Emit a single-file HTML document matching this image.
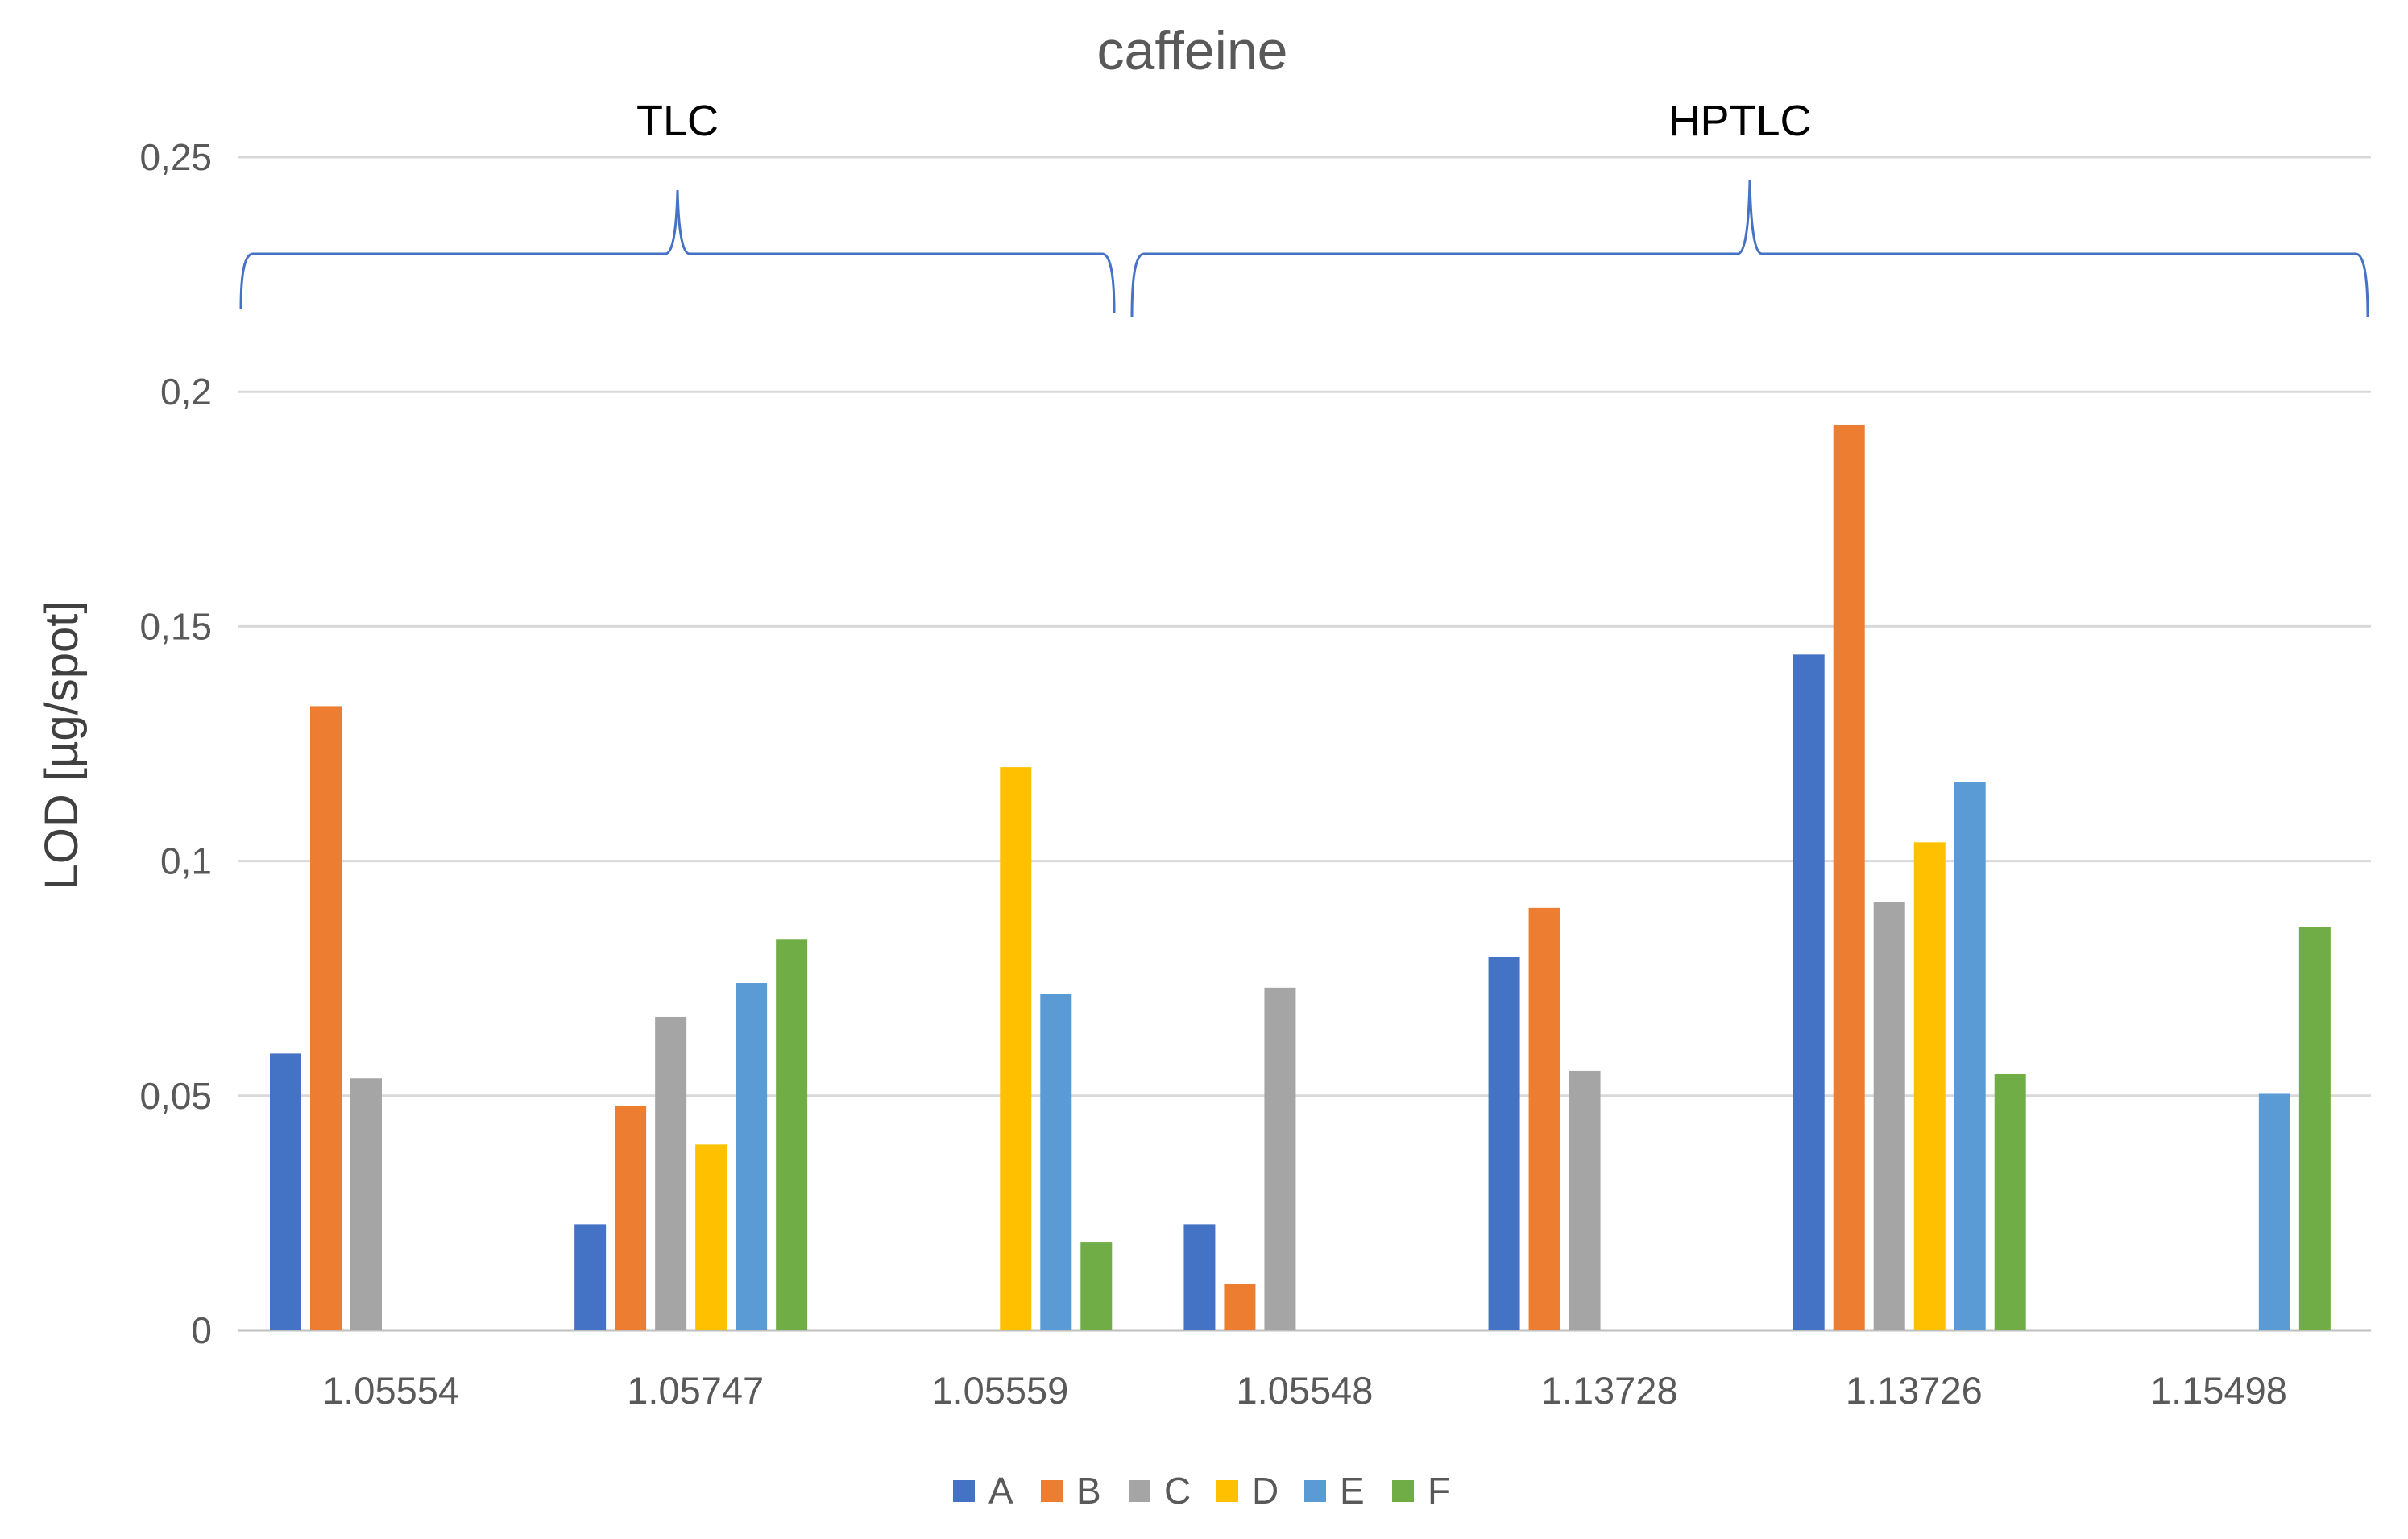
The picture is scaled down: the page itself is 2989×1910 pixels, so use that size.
<!DOCTYPE html>
<html><head><meta charset="utf-8"><style>
body{margin:0;background:#fff;}
svg{display:block;font-family:"Liberation Sans",sans-serif;}
</style></head><body>
<svg id="chart" width="2989" height="1910" viewBox="0 0 2989 1910">
<rect width="2989" height="1910" fill="#fff"/>
<text x="1480" y="86" font-size="68" fill="#595959" text-anchor="middle">caffeine</text>
<text x="841" y="168" font-size="54" fill="#000" text-anchor="middle">TLC</text>
<text x="2160" y="168" font-size="54" fill="#000" text-anchor="middle">HPTLC</text>
<path d="M299,383 Q299,315 314,315 L826,315 Q839,315 841,236 Q843,315 856,315 L1368,315 Q1383,315 1383,388" fill="none" stroke="#4472C4" stroke-width="3"/>
<path d="M1405,393 Q1405,315 1420,315 L2157,315 Q2170,315 2172,224 Q2174,315 2187,315 L2924,315 Q2939,315 2939,393" fill="none" stroke="#4472C4" stroke-width="3"/>
<g id="grid"></g><g id="bars"></g><g id="labels"></g>
<text transform="translate(96,925) rotate(-90)" font-size="58" fill="#404040" text-anchor="middle">LOD [µg/spot]</text>
<g id="legend"></g>
</svg>
<script>
const categories=["1.05554","1.05747","1.05559","1.05548","1.13728","1.13726","1.15498"];
const seriesNames=["A","B","C","D","E","F"];
const seriesColors=["#4472C4","#ED7D31","#A5A5A5","#FFC000","#5B9BD5","#70AD47"];
const valuesA=[0.059,0.0226,0,0.0226,0.0795,0.144,0];
const valuesB=[0.133,0.0478,0,0.0098,0.090,0.193,0];
const valuesC=[0.0537,0.0668,0,0.073,0.0553,0.0913,0];
const valuesD=[0,0.0396,0.120,0,0,0.104,0];
const valuesE=[0,0.074,0.0717,0,0,0.1168,0.0504];
const valuesF=[0,0.0834,0.0187,0,0,0.0546,0.086];
const yTicks=[0,0.05,0.1,0.15,0.2,0.25];
const yTickLabels=["0","0,05","0,1","0,15","0,2","0,25"];
const series=[valuesA,valuesB,valuesC,valuesD,valuesE,valuesF];
const NS="http://www.w3.org/2000/svg";
const L=296,R=2943,Y0=1651,Y1=195,YMAX=0.25;
const y=v=>Y0-(v/YMAX)*(Y0-Y1);
const cw=(R-L)/categories.length;
const x=i=>L+i*cw;
function mk(t,a,p){const e=document.createElementNS(NS,t);for(const k in a)e.setAttribute(k,a[k]);p.appendChild(e);return e;}
const grid=document.getElementById('grid'),bars=document.getElementById('bars'),labels=document.getElementById('labels'),legend=document.getElementById('legend');
yTicks.forEach((t,i)=>{
 const ln=mk('line',{x1:L,x2:R,y1:y(t),y2:y(t),stroke:i==0?'#bfbfbf':'#d9d9d9','stroke-width':3},grid);
 
 
 const tx=mk('text',{x:263,y:y(t)+16,'font-size':46,fill:'#595959','text-anchor':'end'},labels);
 tx.textContent=yTickLabels[i];
 
 
});
categories.forEach((c,i)=>{
 const tx=mk('text',{x:x(i)+cw/2,y:1742,'font-size':47,fill:'#595959','text-anchor':'middle'},labels);
 tx.textContent=c;
 
 
 series.forEach((s,j)=>{
  if(!s[i])return;
  const r=mk('rect',{x:x(i)+39+j*50,y:y(s[i]),width:39,height:Y0-y(s[i]),fill:seriesColors[j]},bars);
  
  
 });
});
seriesNames.forEach((n,j)=>{
 const g=mk('g',{},legend);
 
 
 mk('rect',{x:1183+j*109,y:1837,width:27,height:27,fill:seriesColors[j]},g);
 const t=mk('text',{x:1227+j*109,y:1866,'font-size':46,fill:'#595959'},g);
 t.textContent=n;
});
</script>
</body></html>
